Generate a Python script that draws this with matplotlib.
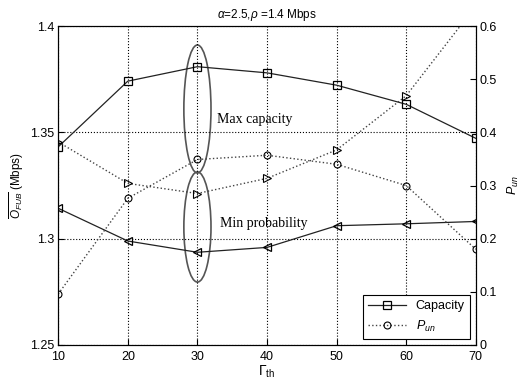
import matplotlib
matplotlib.use("Agg")
from matplotlib import pyplot as plt
from matplotlib.patches import Ellipse

gamma_th = [10, 20, 30, 40, 50, 60, 70]

# left axis (Mbps)
capacity = [1.3432, 1.3741, 1.3809, 1.3780, 1.3722, 1.3632, 1.3472]
capacity_low = [1.3143, 1.2989, 1.2936, 1.2959, 1.3061, 1.3070, 1.3081]

# right axis (probability)
p_un = [0.096, 0.276, 0.349, 0.357, 0.340, 0.300, 0.180]
p_un_tri = [0.382, 0.304, 0.285, 0.3135, 0.367, 0.469, 0.638]

left_ticks = [1.25, 1.3, 1.35, 1.4]
left_labels = ["1.25", "1.3", "1.35", "1.4"]
right_ticks = [0, 0.1, 0.2, 0.3, 0.4, 0.5, 0.6]
right_labels = ["0", "0.1", "0.2", "0.3", "0.4", "0.5", "0.6"]

plt.rcParams["font.family"] = ["Liberation Sans", "DejaVu Sans"]
plt.rcParams["mathtext.fontset"] = "custom"
plt.rcParams["mathtext.rm"] = "Liberation Sans"
plt.rcParams["mathtext.it"] = "Liberation Sans:italic"

fig = plt.figure(figsize=(5.2, 3.84), dpi=100)
ax = fig.add_axes([0.112, 0.1016, 0.803, 0.8305])
ax2 = ax.twinx()

line_col = "#222222"
dot_col = "#444444"

cap_line, = ax.plot(gamma_th, capacity, "-", color=line_col, lw=0.9,
                    marker="s", ms=5.5, mfc="none", mec="black", mew=0.9)
ax.plot(gamma_th, capacity_low, "-", color=line_col, lw=0.9,
        marker="<", ms=5.5, mfc="none", mec="black", mew=0.9)

pun_line, = ax2.plot(gamma_th, p_un, ":", color=dot_col, lw=1.0,
                     marker="o", ms=5, mfc="none", mec="black", mew=0.8)
ax2.plot(gamma_th, p_un_tri, ":", color=dot_col, lw=1.0,
         marker=">", ms=5.5, mfc="none", mec="black", mew=0.8)

ax.set_xlim(10, 70)
ax.set_ylim(1.25, 1.4)
ax2.set_ylim(0, 0.6)
ax.set_xticks(gamma_th)
ax.set_yticks(left_ticks)
ax.set_yticklabels(left_labels)
ax2.set_yticks(right_ticks)
ax2.set_yticklabels(right_labels)

for a in (ax, ax2):
    a.tick_params(direction="in", labelsize=9, length=4, pad=3)
ax.tick_params(axis="x", pad=4)
ax.grid(True, linestyle=":", color="black", lw=0.8)

ax.add_patch(Ellipse((30, 1.361), 3.9, 0.0602, fill=False, ec="#555555", lw=1.2))
ax.add_patch(Ellipse((30, 1.3055), 3.9, 0.0518, fill=False, ec="#555555", lw=1.2))

ax.text(32.8, 1.3545, "Max capacity", family="Liberation Serif", fontsize=10)
ax.text(33.3, 1.3055, "Min probability", family="Liberation Serif", fontsize=10)

ax.set_title(r"$\alpha$=2.5,$\rho$ =1.4 Mbps", fontsize=8.5, pad=6)
ax.set_xlabel(r"$\Gamma_{\rm th}$", fontsize=10, labelpad=1)
ax.set_ylabel(r"$\overline{O_{FUB}}$ (Mbps)", fontsize=8.5, labelpad=3)
ax2.set_ylabel(r"$P_{un}$", fontsize=9, labelpad=6)

leg = ax2.legend([cap_line, pun_line], ["Capacity", "$P_{un}$"], loc="lower right",
                 fontsize=9, fancybox=False, framealpha=1, edgecolor="black",
                 borderaxespad=0.5, handlelength=3)
leg.get_frame().set_linewidth(0.8)

fig.savefig("out.png", dpi=100)
